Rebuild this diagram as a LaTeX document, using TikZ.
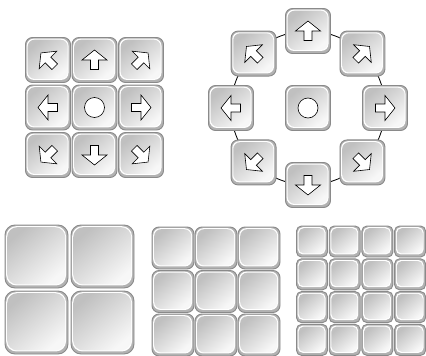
\documentclass[tikz,border=0pt]{standalone}
\usetikzlibrary{calc}

\definecolor{keyline}{HTML}{8A8A8A}
\definecolor{keyshadow}{HTML}{B2B2B2}
\definecolor{keydark}{HTML}{C0C0C0}
\definecolor{keylight}{HTML}{F7F7F7}

\tikzset{
  key/.style 2 args={draw=keyline, line width=0.9pt, fill=keyshadow,
    rounded corners=#2, minimum size=#1, inner sep=0pt,
    path picture={
      \fill[white, rounded corners=#2]
        ([shift={(1.2pt,-1.2pt)}]path picture bounding box.north west) rectangle
        ([shift={(-2pt,2.6pt)}]path picture bounding box.south east);
      \shade[rounded corners=#2, top color=keydark, bottom color=keylight, shading angle=40]
        ([shift={(2.2pt,-2.2pt)}]path picture bounding box.north west) rectangle
        ([shift={(-2.8pt,3.6pt)}]path picture bounding box.south east);
    }},
  symbol/.style={draw=black, fill=white, line width=0.6pt, line join=miter},
  ringline/.style={draw=black, line width=0.8pt},
}

% block arrow inside a key, #2 = rotation (0 = up)
\newcommand\keyarrow[2]{%
  \begin{scope}[shift={(#1)}, rotate=#2]
    \draw[symbol] (0,-10) -- (12.5,0) -- (4,0) -- (4,9.5) -- (-4,9.5) -- (-4,0) -- (-12.5,0) -- cycle;
  \end{scope}}

\begin{document}
\begin{tikzpicture}[x=1pt, y=-1pt]
\useasboundingbox (0,0) rectangle (426,356);

% 3x3 direction pad
\foreach \c in {0,1,2}
  \foreach \r in {0,1,2}
    \node[key={45}{7}] (g-\c-\r) at (48+46.5*\c, 60+47.5*\r) {};
\foreach \n/\a in {g-1-0/0, g-0-0/45, g-0-1/90, g-0-2/135, g-1-2/180, g-2-2/225, g-2-1/270, g-2-0/315}
  \keyarrow{\n}{\a};
\draw[symbol] (g-1-1) circle[radius=10pt];

% ring pad
\coordinate (ring) at (308,108);
\draw[ringline] (ring) circle[radius=77pt];
\node[key={45}{7}] (r-mid) at (ring) {};
\draw[symbol] (r-mid) circle[radius=10pt];
\foreach \a in {0,45,...,315} {
  \node[key={45}{7}] (r-\a) at ($(ring)+(\a+90:77pt)$) {};
  \keyarrow{r-\a}{\a};
}

% plain key grids
\foreach \c in {0,1}
  \foreach \r in {0,1}
    \node[key={63}{10}] (big-\c-\r) at (36.5+66*\c, 256.5+66*\r) {};
\foreach \c in {0,1,2}
  \foreach \r in {0,1,2}
    \node[key={42}{7}] (mid-\c-\r) at (173+43*\c, 248+43.5*\r) {};
\foreach \c in {0,...,3}
  \foreach \r in {0,...,3}
    \node[key={31}{5}] (small-\c-\r) at (312+32.7*\c, 241.5+32.8*\r) {};

\end{tikzpicture}
\end{document}
